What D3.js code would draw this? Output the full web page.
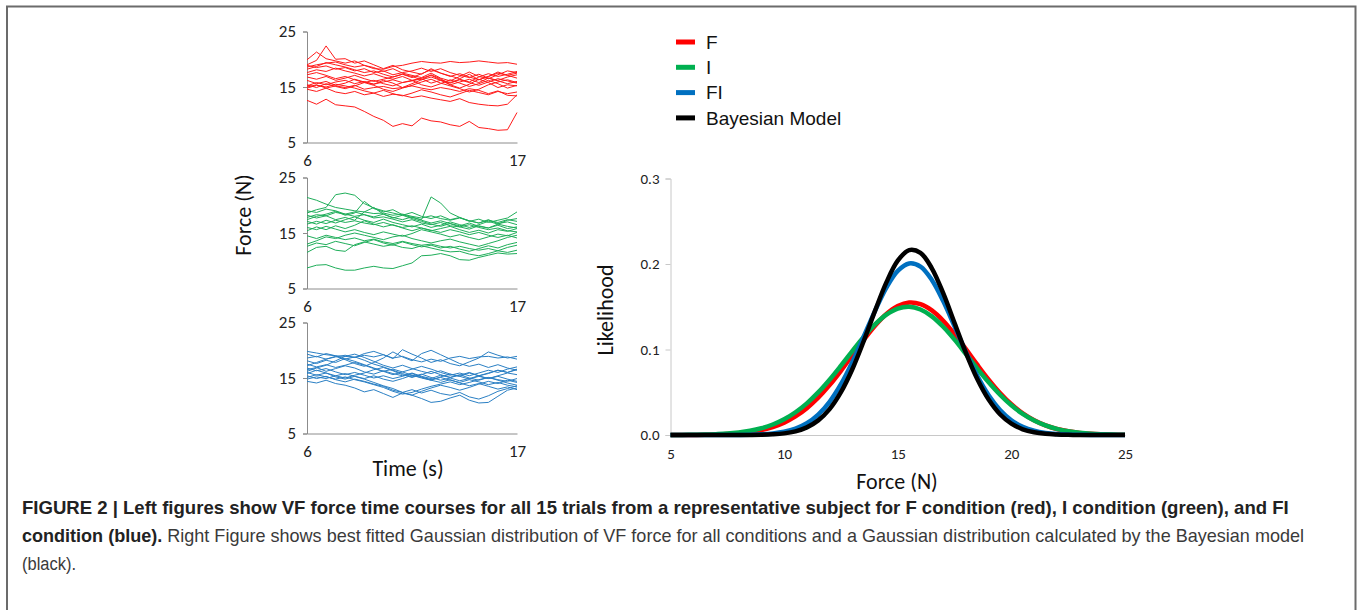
<!DOCTYPE html>
<html>
<head>
<meta charset="utf-8">
<script src="https://cdn.jsdelivr.net/npm/d3@7/dist/d3.min.js"></script>
<style>
    body { margin: 0; background: #fff; }
    svg { display: block; }
    .tick-label { font-family: Carlito, Lato, sans-serif; fill: #222; }
    .axis-title { font-family: Carlito, Lato, sans-serif; fill: #111; }
    .legend-label { font-family: "Liberation Sans", Arial, sans-serif; font-size: 19px; fill: #111; }
    .caption { font-family: "Liberation Sans Narrow", "Liberation Sans", sans-serif; font-size: 19px; fill: #3a3a3a; }
    .caption .b { font-weight: bold; fill: #222; }
</style>
</head>
<body>
<svg id="fig" width="1357" height="610"></svg>
<script>
"use strict";

//  Time courses (s), one sample every 0.5 s  ---
var timePoints = [6, 6.5, 7, 7.5, 8, 8.5, 9, 9.5, 10, 10.5, 11, 11.5, 12, 12.5, 13, 13.5, 14, 14.5, 15, 15.5, 16, 16.5, 17];
var timeTicks = [6, 17];
var forceTicks = [5, 15, 25];

var trialsF = [
    [18.6, 19.0, 19.3, 19.5, 19.0, 18.6, 18.9, 18.3, 18.2, 18.7, 18.9, 19.3, 19.6, 19.4, 19.3, 19.6, 19.4, 19.5, 19.7, 19.5, 19.3, 19.4, 19.1],
    [19.0, 19.8, 22.4, 20.0, 20.1, 19.3, 19.7, 19.0, 18.3, 18.9, 18.1, 17.7, 17.3, 18.3, 17.5, 17.0, 16.5, 17.3, 16.3, 16.9, 17.7, 17.1, 17.5],
    [19.9, 21.3, 20.1, 19.7, 19.3, 19.7, 18.9, 18.5, 17.8, 18.3, 17.5, 17.1, 16.7, 17.5, 16.6, 16.1, 16.9, 17.7, 16.9, 16.5, 17.2, 17.9, 17.6],
    [12.6, 11.9, 12.8, 11.8, 11.6, 11.4, 10.6, 9.7, 9.0, 7.9, 8.4, 8.0, 9.4, 8.9, 8.7, 8.2, 7.9, 8.8, 7.7, 7.5, 7.2, 7.3, 10.4],
    [14.6, 14.2, 14.8, 14.1, 13.8, 14.2, 13.6, 13.9, 13.3, 13.7, 13.5, 13.1, 13.4, 13.0, 12.7, 12.4, 12.9, 12.2, 11.9, 11.7, 11.6, 11.9, 13.6],
    [15.2, 15.8, 15.4, 15.9, 16.2, 15.6, 16.0, 15.5, 15.9, 16.3, 15.8, 16.1, 16.5, 15.7, 16.2, 15.4, 15.9, 16.4, 15.8, 16.6, 16.1, 15.6, 16.0],
    [15.0, 15.4, 14.8, 15.2, 14.9, 15.3, 14.6, 14.9, 15.1, 14.7, 14.9, 15.2, 14.8, 14.5, 14.9, 14.6, 14.2, 14.7, 14.4, 13.8, 14.3, 13.5, 13.4],
    [17.6, 18.1, 17.8, 18.4, 17.9, 17.5, 17.0, 17.4, 16.8, 16.4, 16.9, 16.2, 16.6, 17.1, 16.3, 15.8, 16.4, 15.9, 16.8, 17.4, 16.9, 17.3, 17.8],
    [16.2, 15.6, 16.0, 15.3, 15.7, 16.4, 15.9, 15.5, 16.2, 15.7, 14.9, 15.6, 16.3, 17.2, 16.5, 15.4, 14.8, 15.5, 16.4, 15.8, 14.9, 15.4, 15.2],
    [18.9, 18.5, 18.8, 18.2, 18.5, 17.9, 18.3, 17.6, 17.9, 17.2, 17.6, 17.9, 18.4, 17.8, 18.3, 17.6, 17.1, 16.7, 17.3, 16.6, 16.2, 16.8, 17.2],
    [15.4, 14.9, 15.6, 15.1, 14.7, 15.2, 15.8, 15.3, 14.6, 14.2, 14.8, 15.3, 15.9, 16.4, 15.7, 15.2, 14.7, 14.1, 14.6, 15.4, 15.9, 16.3, 15.8],
    [16.8, 16.4, 16.9, 16.2, 16.6, 17.1, 16.5, 16.0, 16.4, 16.8, 17.3, 16.7, 17.4, 18.1, 17.5, 16.9, 17.4, 16.8, 16.3, 16.9, 17.5, 17.1, 16.6],
    [14.8, 15.3, 15.0, 15.5, 15.2, 14.8, 14.3, 13.9, 14.4, 13.8, 13.4, 13.9, 14.5, 14.1, 13.6, 13.2, 13.8, 14.4, 14.0, 13.6, 14.2, 13.8, 14.1],
    [18.2, 18.7, 19.4, 19.0, 18.6, 18.1, 17.6, 17.9, 17.3, 16.8, 17.3, 16.9, 16.3, 16.8, 16.2, 15.7, 16.3, 15.8, 15.3, 15.9, 16.5, 16.1, 15.7],
    [17.2, 17.6, 17.1, 16.5, 16.9, 16.3, 15.8, 16.2, 15.6, 15.2, 15.8, 16.2, 15.4, 15.0, 15.6, 16.3, 15.7, 15.1, 15.6, 16.2, 15.6, 14.8, 15.3]
];

var trialsI = [
    [21.4, 20.9, 20.2, 19.6, 19.3, 19.0, 18.8, 18.5, 18.6, 18.2, 18.4, 18.0, 17.7, 18.1, 17.6, 17.3, 17.7, 17.2, 16.8, 17.3, 16.9, 17.4, 17.1],
    [18.6, 19.2, 19.6, 21.9, 22.2, 21.8, 20.3, 19.5, 19.0, 18.6, 18.2, 18.7, 18.0, 17.6, 18.1, 17.4, 17.8, 17.2, 16.8, 17.4, 16.7, 17.0, 16.5],
    [17.4, 18.0, 18.4, 18.9, 18.2, 18.6, 20.7, 19.4, 18.8, 19.2, 18.3, 17.8, 17.4, 21.5, 20.4, 18.6, 17.8, 17.1, 17.5, 16.9, 17.3, 17.7, 18.8],
    [8.7, 9.2, 9.3, 8.7, 8.3, 8.3, 8.7, 9.0, 8.7, 8.6, 9.1, 9.6, 10.9, 11.0, 11.3, 10.9, 10.2, 10.1, 10.6, 11.0, 11.4, 11.2, 11.3],
    [11.5, 12.4, 12.6, 11.9, 11.7, 12.9, 13.4, 13.0, 12.6, 12.9, 12.4, 12.2, 12.7, 12.3, 11.9, 11.6, 11.7, 11.2, 10.9, 11.3, 11.8, 11.5, 11.9],
    [14.5, 14.0, 14.6, 14.2, 13.8, 14.1, 13.6, 13.9, 13.4, 13.1, 13.5, 13.1, 12.8, 13.0, 12.6, 12.3, 12.6, 12.2, 11.9, 12.2, 11.8, 12.4, 12.8],
    [17.8, 18.3, 18.1, 18.7, 18.4, 18.0, 18.3, 17.7, 17.9, 17.5, 17.0, 17.4, 16.8, 16.5, 16.9, 16.3, 16.1, 16.5, 16.0, 15.6, 15.9, 15.4, 15.2],
    [16.6, 17.1, 16.7, 17.3, 16.9, 17.2, 16.8, 16.5, 16.9, 16.4, 16.0, 16.3, 15.9, 15.4, 15.8, 16.2, 15.6, 15.1, 15.5, 15.0, 15.6, 15.3, 15.8],
    [19.0, 18.7, 19.3, 19.0, 18.4, 18.8, 18.3, 17.9, 18.4, 17.8, 17.4, 17.9, 17.3, 16.8, 17.2, 16.7, 16.3, 16.8, 16.2, 15.9, 16.4, 15.8, 16.1],
    [16.0, 15.6, 16.2, 15.7, 15.2, 15.6, 15.1, 14.7, 15.2, 14.8, 14.4, 14.9, 15.6, 15.2, 14.8, 14.3, 14.7, 14.2, 13.8, 14.3, 14.8, 14.5, 15.1],
    [13.0, 13.6, 14.3, 14.0, 14.6, 15.0, 14.6, 14.2, 13.8, 14.3, 14.6, 14.0, 13.6, 13.2, 13.6, 13.9, 13.4, 13.0, 12.6, 13.1, 13.6, 14.2, 14.6],
    [18.2, 17.7, 18.1, 17.4, 17.8, 17.3, 18.8, 19.6, 18.4, 17.7, 18.2, 17.6, 17.1, 16.6, 16.2, 16.7, 16.1, 15.7, 16.3, 15.9, 16.6, 17.3, 17.6],
    [15.4, 16.1, 15.6, 16.3, 15.8, 16.4, 17.2, 16.6, 16.1, 16.5, 15.9, 15.4, 15.9, 15.5, 15.1, 15.6, 15.2, 14.7, 15.1, 14.6, 14.2, 14.6, 14.1],
    [17.1, 16.6, 17.3, 16.8, 17.4, 17.9, 17.3, 16.9, 17.5, 16.9, 16.5, 16.1, 16.6, 16.0, 16.4, 17.0, 16.5, 16.0, 16.5, 17.1, 16.6, 16.2, 15.9],
    [12.6, 13.2, 12.9, 13.5, 13.1, 12.7, 13.3, 13.8, 13.2, 12.8, 13.4, 12.9, 12.5, 12.8, 12.3, 12.6, 12.1, 11.7, 12.2, 12.7, 12.3, 12.9, 13.3]
];

var trialsFI = [
    [19.8, 19.5, 19.2, 19.0, 18.9, 18.7, 19.1, 18.8, 19.2, 18.6, 18.9, 18.3, 17.9, 18.4, 18.0, 18.6, 18.9, 18.5, 18.8, 18.9, 18.6, 18.8, 18.4],
    [18.6, 18.9, 18.4, 18.8, 19.1, 18.7, 19.4, 19.8, 19.2, 18.5, 20.1, 19.3, 18.6, 17.8, 18.3, 17.6, 17.2, 17.9, 18.6, 19.7, 19.1, 18.6, 18.9],
    [17.2, 17.8, 18.4, 18.9, 18.3, 17.6, 17.1, 17.8, 18.6, 19.7, 18.8, 18.1, 19.4, 20.0, 19.2, 18.4, 17.6, 17.1, 17.5, 16.9, 17.4, 16.8, 16.4],
    [16.5, 16.9, 16.2, 16.7, 17.2, 16.8, 16.1, 15.7, 16.3, 15.8, 15.4, 15.9, 15.3, 14.9, 15.5, 15.1, 15.6, 15.0, 14.6, 15.1, 14.7, 14.4, 14.9],
    [16.0, 15.5, 15.9, 15.2, 14.8, 15.3, 14.9, 15.4, 14.8, 14.4, 14.9, 15.5, 15.1, 14.6, 15.2, 15.7, 15.3, 14.8, 15.3, 14.9, 15.4, 15.9, 15.6],
    [15.4, 14.9, 15.3, 14.7, 14.3, 14.8, 14.4, 13.9, 13.5, 12.8, 12.4, 12.9, 12.3, 12.8, 12.2, 11.9, 12.4, 11.6, 11.2, 11.8, 12.6, 13.1, 13.6],
    [14.4, 14.1, 14.6, 14.0, 13.7, 13.2, 12.5, 12.9, 12.2, 11.5, 12.3, 11.9, 11.3, 10.6, 10.8, 11.4, 11.9, 11.0, 10.5, 10.6, 11.7, 12.8, 13.2],
    [16.8, 16.3, 16.7, 16.1, 15.6, 16.0, 15.5, 15.0, 15.4, 14.9, 15.3, 15.8, 15.2, 14.7, 15.1, 14.6, 14.2, 14.7, 14.3, 13.8, 14.2, 13.7, 13.4],
    [15.8, 16.4, 15.9, 15.4, 15.0, 15.5, 15.9, 16.5, 16.9, 16.3, 15.6, 15.1, 15.6, 16.2, 15.6, 15.1, 15.5, 16.0, 15.4, 15.8, 16.4, 16.0, 16.5],
    [18.1, 17.6, 18.2, 17.8, 18.5, 18.0, 17.4, 16.8, 16.2, 15.6, 16.1, 15.5, 15.0, 14.6, 14.2, 14.7, 14.1, 13.6, 14.0, 13.5, 13.0, 13.4, 12.9],
    [14.8, 15.2, 14.9, 15.4, 15.8, 15.3, 14.8, 14.2, 13.6, 13.1, 12.4, 11.9, 12.6, 13.2, 13.7, 13.3, 12.8, 13.3, 13.9, 14.4, 14.0, 14.6, 14.2],
    [17.5, 17.0, 17.4, 16.9, 17.3, 17.8, 17.3, 16.7, 16.2, 16.6, 16.1, 16.6, 17.1, 16.6, 16.0, 15.5, 15.9, 15.4, 15.9, 16.4, 16.0, 16.6, 17.0],
    [16.2, 16.8, 17.3, 18.1, 18.9, 19.3, 18.7, 18.0, 17.3, 16.8, 17.3, 16.7, 16.2, 15.8, 16.3, 15.7, 15.3, 15.9, 15.4, 14.9, 15.3, 14.8, 14.4],
    [19.3, 18.8, 19.4, 19.0, 18.4, 18.8, 18.2, 17.5, 17.0, 16.4, 15.8, 15.2, 15.7, 15.1, 14.6, 15.0, 14.5, 14.9, 15.4, 15.9, 16.4, 16.0, 16.6],
    [15.1, 15.6, 15.2, 14.8, 15.2, 14.7, 14.3, 13.8, 13.3, 12.6, 12.1, 12.4, 13.0, 13.5, 13.9, 14.3, 13.8, 14.2, 14.7, 15.1, 14.6, 14.1, 13.7]
];

//  Likelihood curves, force sampled every 0.5 N  ---
var forcePoints = [5, 5.5, 6, 6.5, 7, 7.5, 8, 8.5, 9, 9.5, 10, 10.5, 11, 11.5, 12, 12.5, 13, 13.5, 14, 14.5, 15,
    15.5, 16, 16.5, 17, 17.5, 18, 18.5, 19, 19.5, 20, 20.5, 21, 21.5, 22, 22.5, 23, 23.5, 24, 24.5, 25];
var likelihoodTicks = [0, 0.1, 0.2, 0.3];
var likelihoodXTicks = [5, 10, 15, 20, 25];

var likeF = [0.0000, 0.0001, 0.0001, 0.0003, 0.0006, 0.0011, 0.0020, 0.0035, 0.0058, 0.0093, 0.0145, 0.0218, 0.0314, 0.0436, 0.0583, 0.0751, 0.0931, 0.1111, 0.1278, 0.1415, 0.1508,
    0.1549, 0.1531, 0.1458, 0.1337, 0.1180, 0.1004, 0.0822, 0.0648, 0.0492, 0.0360, 0.0253, 0.0172, 0.0112, 0.0070, 0.0043, 0.0025, 0.0014, 0.0008, 0.0004, 0.0002];
var likeI = [0.0001, 0.0001, 0.0003, 0.0005, 0.0010, 0.0017, 0.0030, 0.0049, 0.0079, 0.0123, 0.0184, 0.0266, 0.0370, 0.0498, 0.0647, 0.0811, 0.0981, 0.1147, 0.1293, 0.1407, 0.1479,
    0.1500, 0.1468, 0.1388, 0.1266, 0.1115, 0.0947, 0.0777, 0.0616, 0.0471, 0.0347, 0.0247, 0.0170, 0.0113, 0.0072, 0.0045, 0.0027, 0.0015, 0.0009, 0.0005, 0.0002];
var likeFI = [0, 0, 0, 0, 0, 0, 0.0001, 0.0003, 0.0008, 0.0018, 0.0038, 0.0074, 0.0137, 0.0238, 0.0388, 0.0594, 0.0852, 0.1149, 0.1452, 0.1724, 0.1920,
    0.2007, 0.1970, 0.1814, 0.1567, 0.1271, 0.0968, 0.0691, 0.0464, 0.0292, 0.0172, 0.0096, 0.0050, 0.0024, 0.0011, 0.0005, 0.0002, 0.0001, 0, 0, 0];
var likeBayes = [0, 0, 0, 0, 0, 0, 0, 0.0001, 0.0003, 0.0008, 0.0019, 0.0043, 0.0089, 0.0171, 0.0303, 0.0501, 0.0769, 0.1097, 0.1452, 0.1785, 0.2039,
    0.2163, 0.2131, 0.1950, 0.1658, 0.1309, 0.0960, 0.0654, 0.0414, 0.0243, 0.0133, 0.0067, 0.0032, 0.0014, 0.0006, 0.0002, 0, 0, 0, 0, 0];

var legendNames = ["F", "I", "FI", "Bayesian Model"];
var seriesColors = ["#ff0000", "#00b050", "#0070c0", "#000000"];
var traceColors = ["#ff1a1a", "#1fae5a", "#2a7fc4"];

var svg = d3.select("#fig");

//  Frame  ---
svg.append("rect")
    .attr("x", 7).attr("y", 6.5)
    .attr("width", 1348.5).attr("height", 640)
    .attr("fill", "none")
    .attr("stroke", "#6b6b6b")
    .attr("stroke-width", 2);

//  Left panels  ---
var xTime = d3.scaleLinear().domain([6, 17]).range([307, 517]);
var panelBottoms = [142.5, 288.5, 433.5];
var panelTrials = [trialsF, trialsI, trialsFI];

panelBottoms.forEach(function (bottom, p) {
    var yForce = d3.scaleLinear().domain([5, 25]).range([bottom, bottom - 111]);
    var g = svg.append("g");

    var yAxis = g.append("g")
        .attr("transform", "translate(" + xTime(6) + ",0)")
        .call(d3.axisLeft(yForce).tickValues(forceTicks).tickSize(4).tickPadding(7));
    var xAxis = g.append("g")
        .attr("transform", "translate(0," + bottom + ")")
        .call(d3.axisBottom(xTime).tickValues(timeTicks).tickSize(0).tickPadding(11));
    [yAxis, xAxis].forEach(function (a) {
        a.select(".domain").attr("stroke", "#8c8c8c");
        a.selectAll(".tick line").attr("stroke", "#8c8c8c");
        a.selectAll(".tick text").attr("class", "tick-label").style("font-size", "17px");
    });

    var line = d3.line()
        .x(function (d, i) { return xTime(timePoints[i]); })
        .y(function (d) { return yForce(d); });
    g.selectAll(".trace").data(panelTrials[p]).enter().append("path")
        .attr("class", "trace")
        .attr("d", line)
        .attr("fill", "none")
        .attr("stroke", traceColors[p])
        .attr("stroke-width", 1)
        .attr("stroke-linejoin", "round");
});

svg.append("text")
    .attr("class", "axis-title")
    .attr("transform", "translate(251,215) rotate(-90)")
    .attr("text-anchor", "middle")
    .style("font-size", "22px")
    .text("Force (N)");
svg.append("text")
    .attr("class", "axis-title")
    .attr("x", 408).attr("y", 476)
    .attr("text-anchor", "middle")
    .style("font-size", "22px")
    .text("Time (s)");

//  Right chart  ---
var xForce = d3.scaleLinear().domain([5, 25]).range([670.5, 1125]);
var yLike = d3.scaleLinear().domain([0, 0.3]).range([435, 178.5]);

var ry = svg.append("g")
    .attr("transform", "translate(" + xForce(5) + ",0)")
    .call(d3.axisLeft(yLike).tickValues(likelihoodTicks).tickSize(5).tickPadding(6).tickFormat(d3.format(".1f")));
var rx = svg.append("g")
    .attr("transform", "translate(0," + yLike(0) + ")")
    .call(d3.axisBottom(xForce).tickValues(likelihoodXTicks).tickSize(0).tickPadding(13));
[ry, rx].forEach(function (a) {
    a.select(".domain").attr("stroke", "#c8c8c8");
    a.selectAll(".tick line").attr("stroke", "#c8c8c8");
    a.selectAll(".tick text").attr("class", "tick-label").style("font-size", "15px");
});

var likeLine = d3.line()
    .x(function (d, i) { return xForce(forcePoints[i]); })
    .y(function (d) { return yLike(d); })
    .curve(d3.curveCatmullRom);
svg.selectAll(".like").data([likeF, likeI, likeFI, likeBayes]).enter().append("path")
    .attr("class", "like")
    .attr("d", likeLine)
    .attr("fill", "none")
    .attr("stroke", function (d, i) { return seriesColors[i]; })
    .attr("stroke-width", 4.5)
    .attr("stroke-linejoin", "round");

svg.append("text")
    .attr("class", "axis-title")
    .attr("transform", "translate(613,310) rotate(-90)")
    .attr("text-anchor", "middle")
    .style("font-size", "22px")
    .text("Likelihood");
svg.append("text")
    .attr("class", "axis-title")
    .attr("x", 897).attr("y", 489)
    .attr("text-anchor", "middle")
    .style("font-size", "22px")
    .text("Force (N)");

//  Legend  ---
var legend = svg.selectAll(".legend").data(legendNames).enter().append("g")
    .attr("class", "legend")
    .attr("transform", function (d, i) { return "translate(676," + (42 + i * 25.3) + ")"; });
legend.append("line")
    .attr("x1", 0).attr("x2", 19)
    .attr("stroke", function (d, i) { return seriesColors[i]; })
    .attr("stroke-width", 5);
legend.append("text")
    .attr("class", "legend-label")
    .attr("x", 30).attr("dy", "0.36em")
    .text(function (d) { return d; });

//  Caption (condensed face: squeeze each line horizontally to the printed width)  ---
var captionLines = [
    [["b", "FIGURE 2 | Left figures show VF force time courses for all 15 trials from a representative subject for F condition (red), I condition (green), and FI"]],
    [["b", "condition (blue)."], ["", " Right Figure shows best fitted Gaussian distribution of VF force for all conditions and a Gaussian distribution calculated by the Bayesian model"]],
    [["", "(black)."]]
];
var captionWidths = [1268, 1283, 54];
captionLines.forEach(function (parts, i) {
    var t = svg.append("text")
        .attr("class", "caption");
    parts.forEach(function (p) {
        t.append("tspan").attr("class", p[0]).text(p[1]);
    });
    var squeeze = captionWidths[i] / t.node().getComputedTextLength();
    t.attr("transform", "translate(22," + (514 + i * 28) + ") scale(" + squeeze + ",1)");
});
</script>
</body>
</html>
